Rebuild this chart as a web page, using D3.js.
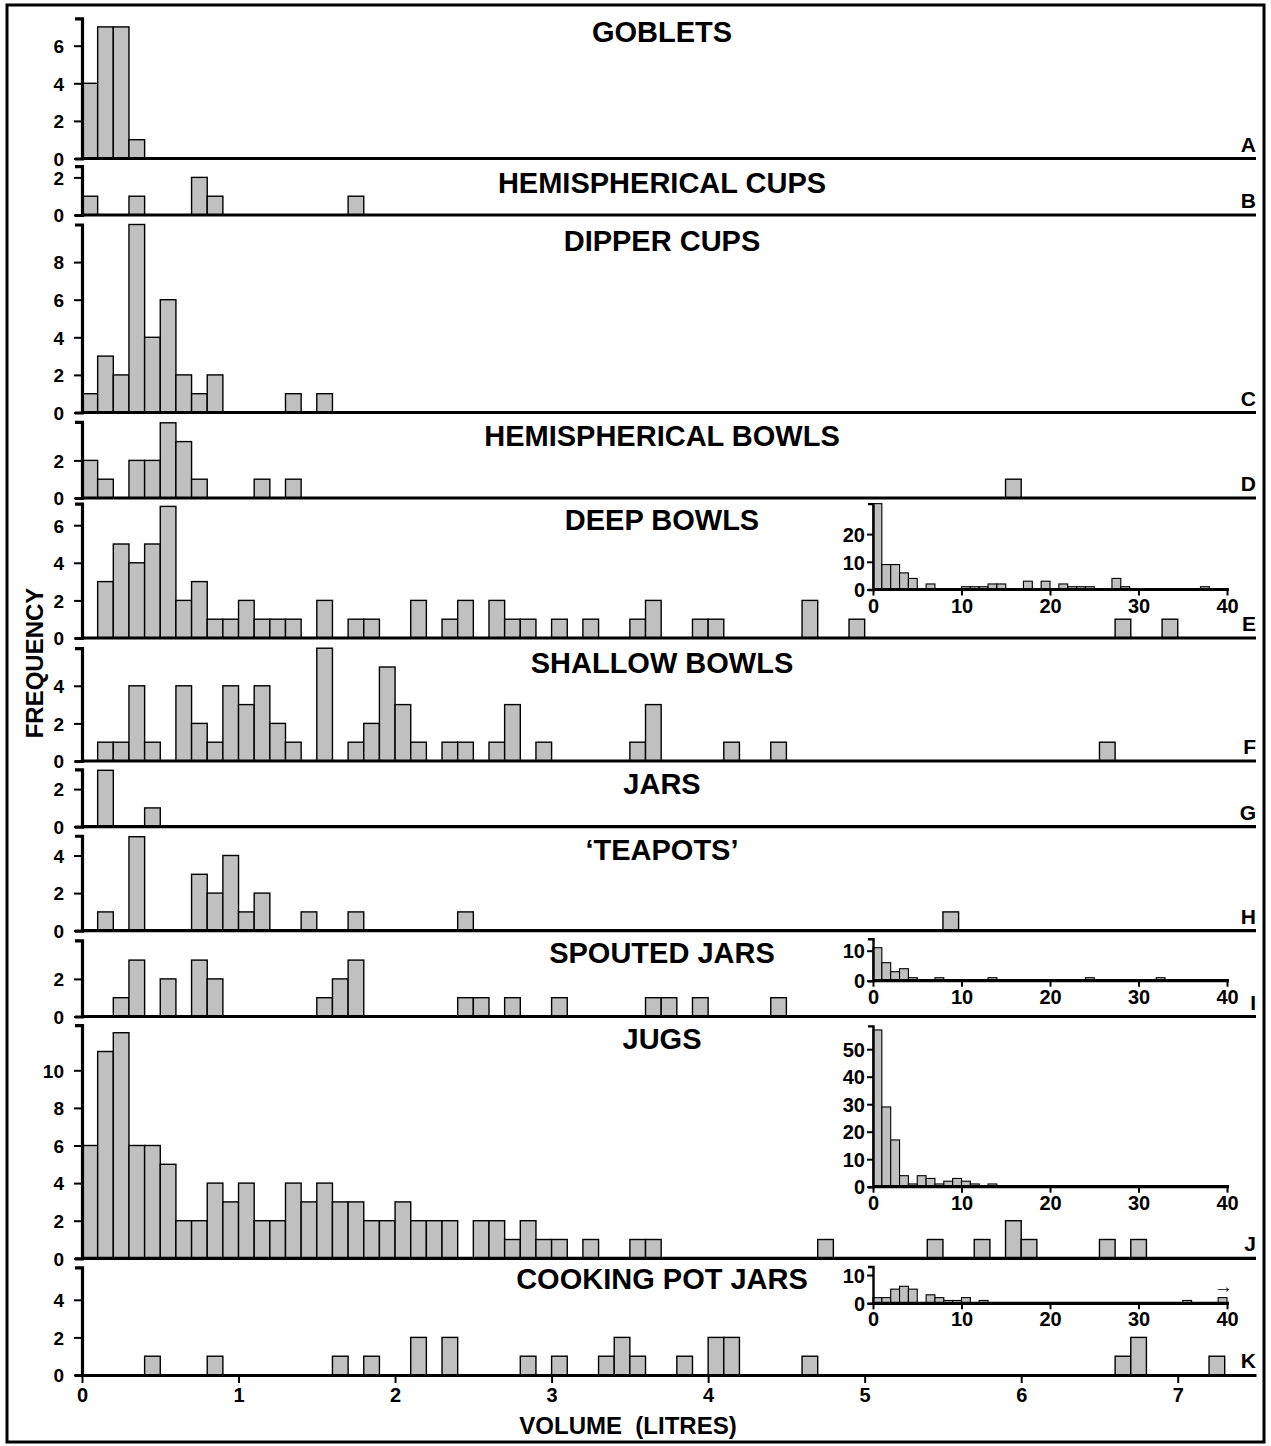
<!DOCTYPE html>
<html><head><meta charset="utf-8">
<script src="https://cdn.jsdelivr.net/npm/d3@7"></script>
<style>
body{margin:0;background:#fff}
svg text{font-family:"Liberation Sans",Arial,Helvetica,sans-serif;font-weight:bold;fill:#000}
</style>
</head><body>
<svg id="chart" width="1271" height="1446"></svg>
<script>
// ---------------- DATA ----------------
// Main histograms: [bin start (litres, bins of 0.1 l), frequency]
const goblets = [[0.0,4],[0.1,7],[0.2,7],[0.3,1]];
const hemisphericalCups = [[0.0,1],[0.3,1],[0.7,2],[0.8,1],[1.7,1]];
const dipperCups = [[0.0,1],[0.1,3],[0.2,2],[0.3,10],[0.4,4],[0.5,6],[0.6,2],[0.7,1],[0.8,2],[1.3,1],[1.5,1]];
const hemisphericalBowls = [[0.0,2],[0.1,1],[0.3,2],[0.4,2],[0.5,4],[0.6,3],[0.7,1],[1.1,1],[1.3,1],[5.9,1]];
const deepBowls = [[0.1,3],[0.2,5],[0.3,4],[0.4,5],[0.5,7],[0.6,2],[0.7,3],[0.8,1],[0.9,1],[1.0,2],[1.1,1],[1.2,1],[1.3,1],[1.5,2],[1.7,1],[1.8,1],[2.1,2],[2.3,1],[2.4,2],[2.6,2],[2.7,1],[2.8,1],[3.0,1],[3.2,1],[3.5,1],[3.6,2],[3.9,1],[4.0,1],[4.6,2],[4.9,1],[6.6,1],[6.9,1]];
const shallowBowls = [[0.1,1],[0.2,1],[0.3,4],[0.4,1],[0.6,4],[0.7,2],[0.8,1],[0.9,4],[1.0,3],[1.1,4],[1.2,2],[1.3,1],[1.5,6],[1.7,1],[1.8,2],[1.9,5],[2.0,3],[2.1,1],[2.3,1],[2.4,1],[2.6,1],[2.7,3],[2.9,1],[3.5,1],[3.6,3],[4.1,1],[4.4,1],[6.5,1]];
const jars = [[0.1,3],[0.4,1]];
const teapots = [[0.1,1],[0.3,5],[0.7,3],[0.8,2],[0.9,4],[1.0,1],[1.1,2],[1.4,1],[1.7,1],[2.4,1],[5.5,1]];
const spoutedJars = [[0.2,1],[0.3,3],[0.5,2],[0.7,3],[0.8,2],[1.5,1],[1.6,2],[1.7,3],[2.4,1],[2.5,1],[2.7,1],[3.0,1],[3.6,1],[3.7,1],[3.9,1],[4.4,1]];
const jugs = [[0.0,6],[0.1,11],[0.2,12],[0.3,6],[0.4,6],[0.5,5],[0.6,2],[0.7,2],[0.8,4],[0.9,3],[1.0,4],[1.1,2],[1.2,2],[1.3,4],[1.4,3],[1.5,4],[1.6,3],[1.7,3],[1.8,2],[1.9,2],[2.0,3],[2.1,2],[2.2,2],[2.3,2],[2.5,2],[2.6,2],[2.7,1],[2.8,2],[2.9,1],[3.0,1],[3.2,1],[3.5,1],[3.6,1],[4.7,1],[5.4,1],[5.7,1],[5.9,2],[6.0,1],[6.5,1],[6.7,1]];
const cookingPotJars = [[0.4,1],[0.8,1],[1.6,1],[1.8,1],[2.1,2],[2.3,2],[2.8,1],[3.0,1],[3.3,1],[3.4,2],[3.5,1],[3.8,1],[4.0,2],[4.1,2],[4.6,1],[6.6,1],[6.7,2],[7.2,1]];

// Insets: [bin start (litres, bins of 1 l), frequency]
const deepBowlsInset = [[0,31],[1,9],[2,9],[3,6],[4,4],[6,2],[10,1],[11,1],[12,1],[13,2],[14,2],[17,3],[19,3],[21,2],[22,1],[23,1],[24,1],[27,4],[28,1],[37,1]];
const spoutedJarsInset = [[0,11],[1,6],[2,3],[3,4],[4,1],[7,1],[13,1],[24,1],[32,1]];
const jugsInset = [[0,57],[1,29],[2,17],[3,4],[4,1],[5,4],[6,3],[7,1],[8,2],[9,3],[10,2],[11,1],[13,1]];
const cookingPotJarsInset = [[0,2],[1,2],[2,5],[3,6],[4,5],[6,3],[7,2],[8,1],[9,1],[10,2],[12,1],[35,1],[39,2]];

const panelTitles = ["GOBLETS","HEMISPHERICAL CUPS","DIPPER CUPS","HEMISPHERICAL BOWLS","DEEP BOWLS","SHALLOW BOWLS","JARS","\u2018TEAPOTS\u2019","SPOUTED JARS","JUGS","COOKING POT JARS"];
const panelLetters = ["A","B","C","D","E","F","G","H","I","J","K"];
const panelSeries = [goblets,hemisphericalCups,dipperCups,hemisphericalBowls,deepBowls,shallowBowls,jars,teapots,spoutedJars,jugs,cookingPotJars];
const panelYTicks = [[0,2,4,6],[0,2],[0,2,4,6,8],[0,2],[0,2,4,6],[0,2,4],[0,2],[0,2,4],[0,2],[0,2,4,6,8,10],[0,2,4]];
const panelYMax = [7.45,2.6,10,4.05,7.15,6,3.05,5.05,4.05,12.4,5.72];
const xTicks = [0,1,2,3,4,5,6,7];
const insetXTicks = [0,10,20,30,40];
const xTitle = "VOLUME  (LITRES)";
const yTitle = "FREQUENCY";

// ---------------- LAYOUT ----------------
const binW = 0.1;
const unitPx = 18.8;
const baselines = [158.5,215,412.5,498,638,761,826.7,930.7,1016.5,1258.3,1375];
const titleOffset = [24,27,26,24.5,26.5,24.5,25,24.5,22.5,23.5,22];
const insets = [
  {panel:4, data:deepBowlsInset, base:589.5, unit:2.77, ymax:31, ticks:[0,10,20]},
  {panel:8, data:spoutedJarsInset, base:980.7, unit:3.0, ymax:14, ticks:[0,10]},
  {panel:9, data:jugsInset, base:1186.7, unit:2.75, ymax:58.5, ticks:[0,10,20,30,40,50]},
  {panel:10, data:cookingPotJarsInset, base:1303.3, unit:2.83, ymax:13, ticks:[0,10]}
];

const svg = d3.select("#chart");
const x = d3.scaleLinear().domain([0,7.5]).range([82,1256]);

// outer frame
svg.append("rect").attr("x",7).attr("y",5).attr("width",1257).attr("height",1437)
  .attr("fill","none").attr("stroke","#000").attr("stroke-width",3);

function styleAxis(g, fs){
  g.selectAll(".domain").attr("stroke","#000").attr("stroke-width",3.2);
  g.selectAll(".tick line").attr("stroke","#000").attr("stroke-width",2);
  g.selectAll(".tick text").attr("font-size",fs).attr("font-family",null).attr("fill","#000");
  g.attr("font-family",null).attr("font-size",null);
}

panelSeries.forEach((data,i)=>{
  const base = baselines[i];
  const ymax = panelYMax[i];
  const y = d3.scaleLinear().domain([0,ymax]).range([base, base - ymax*unitPx]);
  const g = svg.append("g");
  // bars
  g.selectAll("rect").data(data).join("rect")
    .attr("x",d=>x(d[0])).attr("width",d=>x(d[0]+binW)-x(d[0]))
    .attr("y",d=>y(d[1])).attr("height",d=>y(0)-y(d[1]))
    .attr("fill","#c0c0c0").attr("stroke","#000").attr("stroke-width",1.4);
  // y axis
  const ya = g.append("g").attr("transform",`translate(${x(0)},0)`)
    .call(d3.axisLeft(y).tickValues(panelYTicks[i]).tickSize(8).tickSizeOuter(7).tickPadding(10).tickFormat(d3.format("d")));
  styleAxis(ya, 19);
  ya.selectAll(".tick text").attr("dy","0.36em");
  // baseline / x axis
  if (i === panelSeries.length-1){
    const xa = g.append("g").attr("transform",`translate(0,${base})`)
      .call(d3.axisBottom(x).tickValues(xTicks).tickSize(8).tickSizeOuter(0).tickPadding(5).tickFormat(d3.format("d")));
    styleAxis(xa, 20);
  } else {
    g.append("line").attr("x1",x(0)).attr("x2",x(7.5)).attr("y1",base).attr("y2",base)
      .attr("stroke","#000").attr("stroke-width",3.2);
  }
  // title
  g.append("text").attr("x",662).attr("y",y(ymax)+titleOffset[i]).attr("text-anchor","middle")
    .attr("font-size",29).text(panelTitles[i]);
  // letter
  g.append("text").attr("x",1256).attr("y",base-7).attr("text-anchor","end")
    .attr("font-size",21).text(panelLetters[i]);
});

// insets
const xi = d3.scaleLinear().domain([0,40]).range([873,1227]);
insets.forEach(ins=>{
  const yi = d3.scaleLinear().domain([0,ins.ymax]).range([ins.base, ins.base - ins.ymax*ins.unit]);
  const g = svg.append("g");
  g.selectAll("rect").data(ins.data).join("rect")
    .attr("x",d=>xi(d[0])).attr("width",d=>xi(d[0]+1)-xi(d[0]))
    .attr("y",d=>yi(d[1])).attr("height",d=>yi(0)-yi(d[1]))
    .attr("fill","#c0c0c0").attr("stroke","#000").attr("stroke-width",1.1);
  const xa = g.append("g").attr("transform",`translate(0,${ins.base})`)
    .call(d3.axisBottom(xi).tickValues(insetXTicks).tickSize(6).tickSizeOuter(0).tickPadding(3).tickFormat(d3.format("d")));
  styleAxis(xa, 20);
  xa.select(".domain").attr("d",`M${xi(0)},0H${xi(40)+2}`);
  const ya = g.append("g").attr("transform",`translate(${xi(0)},0)`)
    .call(d3.axisLeft(yi).tickValues(ins.ticks).tickSize(6).tickSizeOuter(5).tickPadding(2).tickFormat(d3.format("d")));
  styleAxis(ya, 20);
  ya.selectAll(".tick text").attr("dy","0.36em");
  ya.select(".domain").attr("stroke-width",2.4);
  if (ins.panel === 10){
    g.append("text").attr("x",xi(39.6)).attr("y",yi(2)-5).attr("text-anchor","middle")
      .attr("font-size",19).attr("font-weight","normal").text("\u2192");
  }
});

// axis titles
svg.append("text").attr("x",628).attr("y",1434).attr("text-anchor","middle")
  .attr("font-size",24).style("white-space","pre").text(xTitle);
svg.append("text").attr("transform","translate(43,663) rotate(-90)").attr("text-anchor","middle")
  .attr("font-size",24).text(yTitle);
</script>
</body></html>
